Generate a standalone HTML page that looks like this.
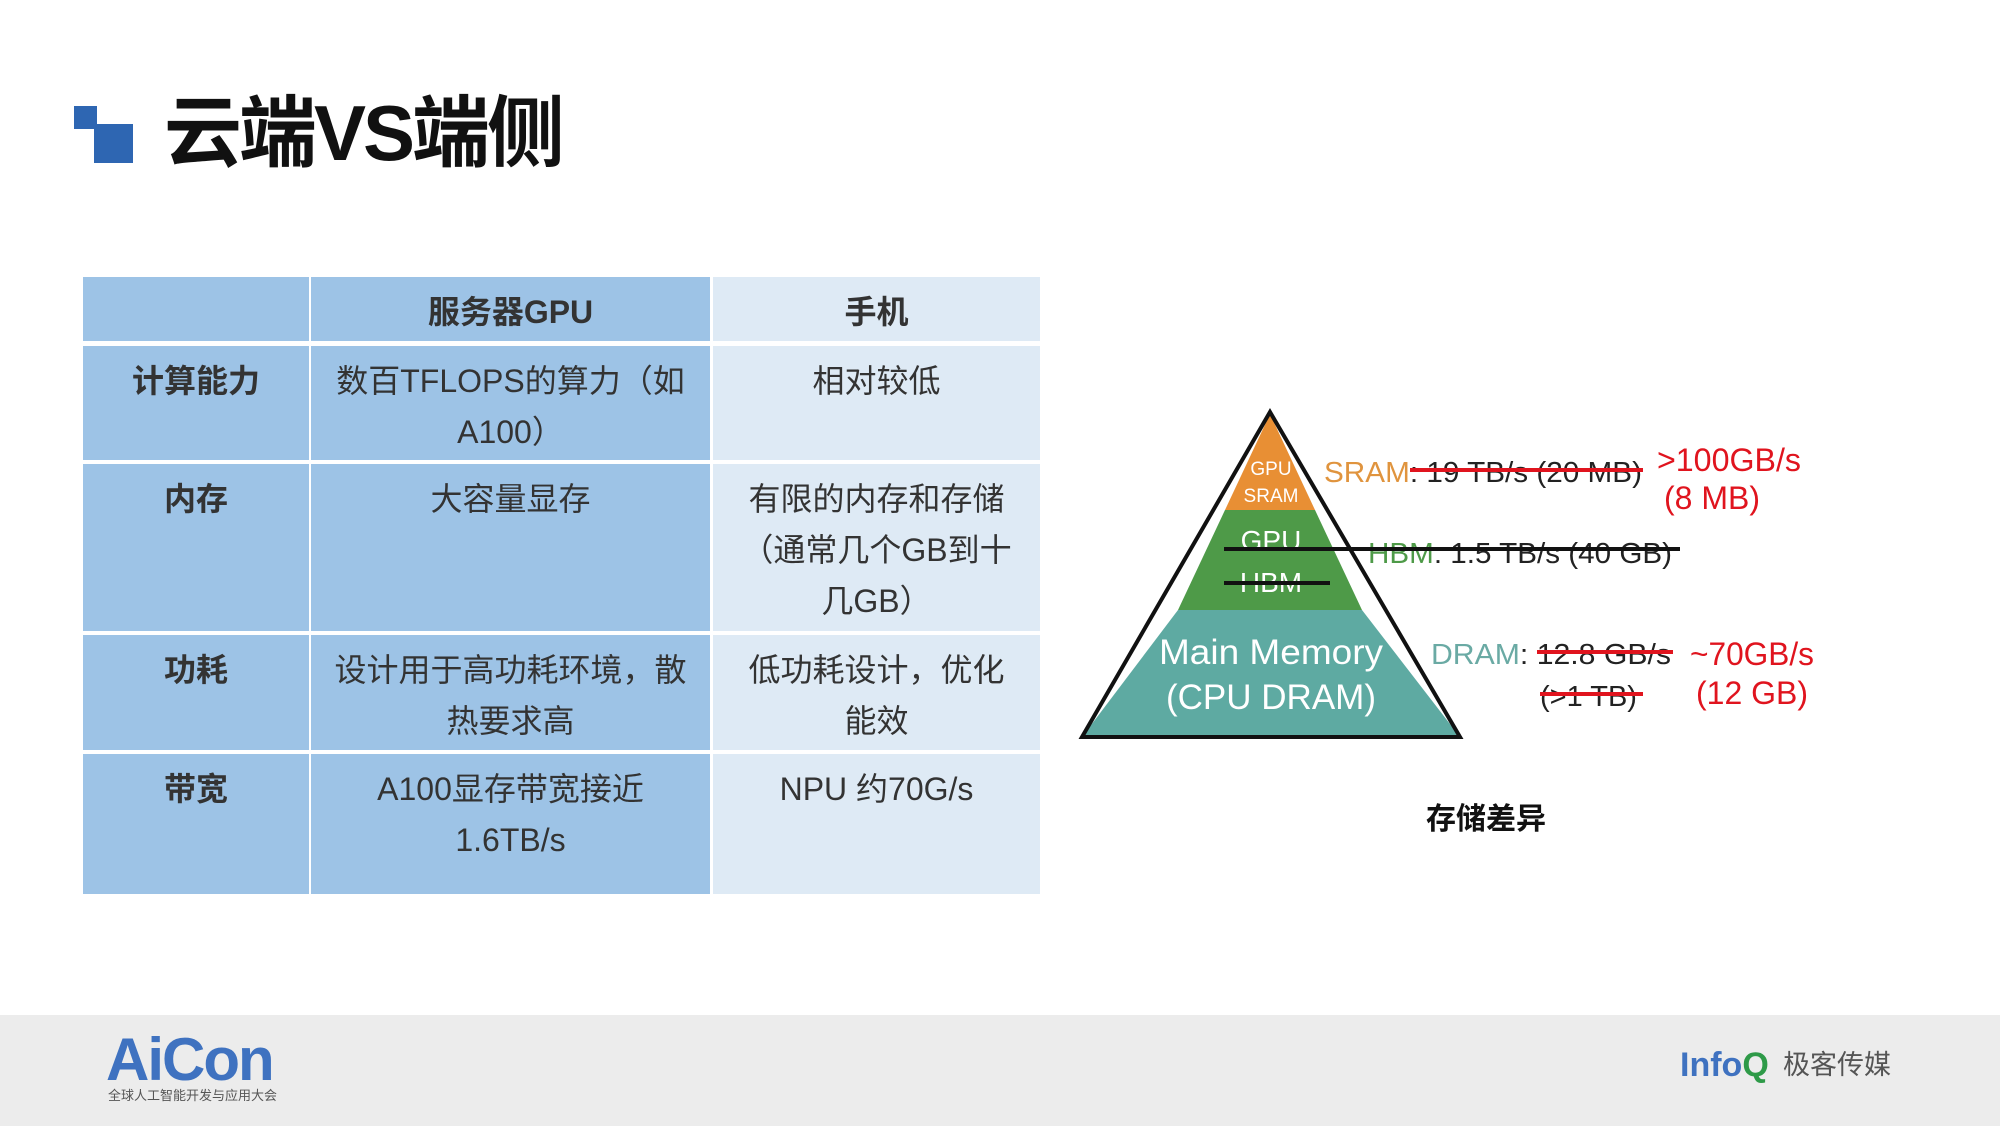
<!DOCTYPE html>
<html><head><meta charset="utf-8"><style>
*{margin:0;padding:0;box-sizing:border-box}
body{width:2000px;height:1126px;background:#fff;position:relative;overflow:hidden;font-family:"Liberation Sans","Noto Sans CJK SC",sans-serif}
.a{position:absolute}
.c{position:absolute;display:flex;justify-content:center;text-align:center;color:#333;font-size:32px;line-height:51px;padding-top:12px}
.b{background:#9dc3e6}.l{background:#deeaf5}
.h{font-weight:bold}
</style></head><body>
<div class="a" style="left:74px;top:106px;width:23px;height:23px;background:#2e66b2"></div>
<div class="a" style="left:94px;top:124px;width:39px;height:39px;background:#2e66b2"></div>
<div class="a" style="left:164px;top:88px;font-size:78px;font-weight:bold;line-height:90px;color:#111;letter-spacing:-3px">云端VS端侧</div>

<div class="c b" style="left:83px;top:277px;width:226px;height:64px;padding-top:10px"></div>
<div class="c b h" style="left:311px;top:277px;width:399px;height:64px;padding-top:10px">服务器GPU</div>
<div class="c l h" style="left:713px;top:277px;width:327px;height:64px;padding-top:10px">手机</div>

<div class="c b h" style="left:83px;top:346px;width:226px;height:114px;padding-top:10px">计算能力</div>
<div class="c b" style="left:311px;top:346px;width:399px;height:114px;padding-top:10px">数百TFLOPS的算力（如<br>A100）</div>
<div class="c l" style="left:713px;top:346px;width:327px;height:114px;padding-top:10px">相对较低</div>

<div class="c b h" style="left:83px;top:464px;width:226px;height:167px;padding-top:10px">内存</div>
<div class="c b" style="left:311px;top:464px;width:399px;height:167px;padding-top:10px">大容量显存</div>
<div class="c l" style="left:713px;top:464px;width:327px;height:167px;padding-top:10px">有限的内存和存储<br>（通常几个GB到十<br>几GB）</div>

<div class="c b h" style="left:83px;top:635px;width:226px;height:115px;padding-top:10px">功耗</div>
<div class="c b" style="left:311px;top:635px;width:399px;height:115px;padding-top:10px">设计用于高功耗环境，散<br>热要求高</div>
<div class="c l" style="left:713px;top:635px;width:327px;height:115px;padding-top:10px">低功耗设计，优化<br>能效</div>

<div class="c b h" style="left:83px;top:754px;width:226px;height:140px;padding-top:10px">带宽</div>
<div class="c b" style="left:311px;top:754px;width:399px;height:140px;padding-top:10px">A100显存带宽接近<br>1.6TB/s</div>
<div class="c l" style="left:713px;top:754px;width:327px;height:140px;padding-top:10px">NPU 约70G/s</div>

<svg class="a" style="left:0;top:0" width="2000" height="1126" font-family="Liberation Sans, sans-serif">
<polygon points="1270,414 1315,510 1225,510" fill="#e88f34"/>
<polygon points="1225,510 1315,510 1362,610 1178,610" fill="#4e9a48"/>
<polygon points="1178,610 1362,610 1460,737 1082,737" fill="#5eaaa2"/>
<polygon points="1270,412 1460,737 1082,737" fill="none" stroke="#111" stroke-width="4"/>
<g fill="#fff" text-anchor="middle">
<text x="1271" y="475" font-size="19">GPU</text>
<text x="1271" y="502" font-size="19">SRAM</text>
<text x="1271" y="550" font-size="28">GPU</text>
<text x="1271" y="592" font-size="28">HBM</text>
<text x="1271" y="664" font-size="35" textLength="224" lengthAdjust="spacingAndGlyphs">Main Memory</text>
<text x="1271" y="709" font-size="35">(CPU DRAM)</text>
</g>
<g font-size="29">
<text x="1324" y="482" textLength="318" lengthAdjust="spacingAndGlyphs"><tspan fill="#e0943e">SRAM</tspan><tspan fill="#222">: 19 TB/s (20 MB)</tspan></text>
<text x="1368" y="563" textLength="304" lengthAdjust="spacingAndGlyphs"><tspan fill="#4e9a48">HBM</tspan><tspan fill="#222">: 1.5 TB/s (40 GB)</tspan></text>
<text x="1431" y="664" textLength="240" lengthAdjust="spacingAndGlyphs"><tspan fill="#6aaaa4">DRAM</tspan><tspan fill="#222">: 12.8 GB/s</tspan></text>
<text x="1540" y="706" fill="#222">(&gt;1 TB)</text>
<g fill="#e0141e" font-size="32">
<text x="1657" y="471" textLength="144" lengthAdjust="spacingAndGlyphs">&gt;100GB/s</text>
<text x="1664" y="509">(8 MB)</text>
<text x="1690" y="665" textLength="124" lengthAdjust="spacingAndGlyphs">~70GB/s</text>
<text x="1696" y="704">(12 GB)</text>
</g></g>
<g stroke-width="4">
<line x1="1410" y1="470" x2="1643" y2="470" stroke="#e0141e"/>
<line x1="1224" y1="549" x2="1680" y2="549" stroke="#111"/>
<line x1="1224" y1="583" x2="1330" y2="583" stroke="#111"/>
<line x1="1537" y1="652" x2="1673" y2="652" stroke="#e0141e"/>
<line x1="1540" y1="694" x2="1643" y2="694" stroke="#e0141e"/>
</g>
</svg>
<div class="a" style="left:1386px;top:794px;width:200px;text-align:center;font-size:30px;font-weight:bold;color:#111">存储差异</div>

<div class="a" style="left:0;top:1015px;width:2000px;height:111px;background:#ececec"></div>
<div class="a" style="left:106px;top:1028px;font-size:60px;font-weight:bold;color:#3f72c0;letter-spacing:-2px;line-height:64px">AiCon</div>
<div class="a" style="left:108px;top:1085px;font-size:13px;color:#555">全球人工智能开发与应用大会</div>
<div class="a" style="left:1680px;top:1045px;font-size:34px;font-weight:bold;color:#3f72c0;line-height:40px">Info<span style="color:#2e9a48">Q</span></div>
<div class="a" style="left:1783px;top:1047px;font-size:27px;color:#555;line-height:36px">极客传媒</div>
</body></html>
